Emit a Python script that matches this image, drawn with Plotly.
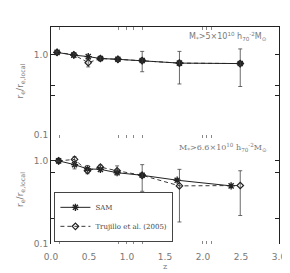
import plotly.graph_objects as go

# ---- data: top panel (M* > 5e10) ----
z_top = [0.08, 0.30, 0.49, 0.65, 0.88, 1.20, 1.69, 2.49]
sam_top = [1.06, 0.98, 0.94, 0.89, 0.87, 0.84, 0.78, 0.77]
tru_top = [1.06, 0.99, 0.79, 0.89, 0.87, 0.84, 0.78, 0.77]
tru_top_up = [0.02, 0.05, 0.08, 0.04, 0.05, 0.25, 0.31, 0.40]
tru_top_dn = [0.02, 0.05, 0.09, 0.04, 0.05, 0.23, 0.35, 0.37]

# ---- data: bottom panel (M* > 6.6e10) ----
z_sam_bot = [0.10, 0.31, 0.48, 0.65, 0.87, 1.20, 1.66, 2.37]
sam_bot = [1.00, 0.90, 0.80, 0.79, 0.72, 0.67, 0.585, 0.50]
z_tru_bot = [0.10, 0.31, 0.48, 0.65, 0.87, 1.20, 1.69, 2.49]
tru_bot = [1.00, 1.04, 0.76, 0.84, 0.76, 0.67, 0.50, 0.505]
tru_bot_up = [0.02, 0.08, 0.12, 0.05, 0.11, 0.23, 0.29, 0.255]
tru_bot_dn = [0.02, 0.24, 0.06, 0.05, 0.08, 0.24, 0.316, 0.285]

x_ticks = [0.0, 0.5, 1.0, 1.5, 2.0, 2.5, 3.0]
x_ticklabels = ["0.0", "0.5", "1.0", "1.5", "2.0", "2.5", "3.0"]
x_stray_ticks = [0.11, 0.89, 0.99, 1.09, 1.20, 1.99, 2.05, 2.11]
y_ticks = [0.1, 1.0]
y_ticklabels = ["0.1", "1.0"]
y_minor_top = [0.31, 0.41]
y_minor_bot = [0.2, 0.72]

ink = "#222222"
txt = "#777777"

fig = go.Figure()

def add_pair(zs, ys, zt, yt, up, dn, xa, ya, legend):
    fig.add_trace(go.Scatter(
        x=zs, y=ys, mode="lines+markers", name="SAM", showlegend=legend,
        line=dict(color=ink, width=1),
        marker=dict(symbol="asterisk-open", size=6, color=ink, line=dict(width=1.4, color=ink)),
        xaxis=xa, yaxis=ya))
    fig.add_trace(go.Scatter(
        x=zt, y=yt, mode="lines+markers", name="Trujillo et al. (2005)", showlegend=legend,
        line=dict(color=ink, width=0.9, dash="4px,3px"),
        marker=dict(symbol="diamond-open", size=5, color=ink, line=dict(width=1.2, color=ink)),
        error_y=dict(type="data", array=up, arrayminus=dn, color="#444444", thickness=0.8, width=2),
        xaxis=xa, yaxis=ya))

add_pair(z_top, sam_top, z_top, tru_top, tru_top_up, tru_top_dn, "x", "y", False)
add_pair(z_sam_bot, sam_bot, z_tru_bot, tru_bot, tru_bot_up, tru_bot_dn, "x2", "y2", True)

split = 0.502
axfont = dict(family="DejaVu Sans", size=9, color=txt)
stray = dict(tickmode="array", tickvals=x_stray_ticks, ticks="inside",
             ticklen=3, tickwidth=1, tickcolor="#888888", showgrid=False)

fig.update_layout(
    width=290, height=273,
    margin=dict(l=36, r=14, t=19, b=37),
    paper_bgcolor="white", plot_bgcolor="white",
    font=dict(family="DejaVu Sans", size=9, color=txt),
    xaxis=dict(domain=[0, 1], anchor="y", range=[0, 3], side="top",
               showline=True, linecolor=ink, linewidth=1, mirror=False,
               showgrid=False, zeroline=False, showticklabels=False,
               ticks="inside", ticklen=0, tickvals=x_ticks, minor=stray),
    xaxis2=dict(domain=[0, 1], anchor="y2", range=[0, 3],
                showline=False, mirror="ticks",
                showgrid=False, zeroline=False,
                ticks="inside", ticklen=0, ticklabelstandoff=6,
                tickvals=x_ticks, ticktext=x_ticklabels, tickfont=axfont,
                minor=stray,
                title=dict(text="z", font=dict(family="DejaVu Serif", size=8, color=txt), standoff=0)),
    yaxis=dict(domain=[split, 1], anchor="x", type="log", range=[-1, 0.34],
               showline=True, linecolor=ink, linewidth=1, mirror="ticks",
               showgrid=False, zeroline=False, ticks="inside", ticklen=4, tickcolor=ink,
               tickvals=y_ticks, ticktext=y_ticklabels, tickfont=axfont,
               minor=dict(tickmode="array", tickvals=y_minor_top, ticks="inside",
                          ticklen=4, tickcolor=ink, showgrid=False),
               title=dict(text="r<sub>e</sub>/r<sub>e,local</sub>",
                          font=dict(family="DejaVu Sans", size=9, color=txt), standoff=8)),
    yaxis2=dict(domain=[0, split], anchor="x2", type="log", range=[-1, 0.31],
                showline=True, linecolor=ink, linewidth=1, mirror="ticks",
                showgrid=False, zeroline=False, ticks="inside", ticklen=4, tickcolor=ink,
                tickvals=y_ticks, ticktext=y_ticklabels, tickfont=axfont,
                minor=dict(tickmode="array", tickvals=y_minor_bot, ticks="inside",
                           ticklen=4, tickcolor=ink, showgrid=False),
                title=dict(text="r<sub>e</sub>/r<sub>e,local</sub>",
                           font=dict(family="DejaVu Sans", size=9, color=txt), standoff=8)),
    legend=dict(x=0.015, y=0.01, xanchor="left", yanchor="bottom",
                bordercolor="#444444", borderwidth=1, bgcolor="white",
                font=dict(family="DejaVu Serif", size=7, color="#444444"),
                tracegroupgap=0, itemwidth=30),
    showlegend=True,
    annotations=[
        dict(text="M<sub>*</sub>>5×10<sup>10</sup> h<sub>70</sub><sup>-2</sup>M<sub>⊙</sub>",
             xref="paper", yref="paper", x=0.955, y=0.955, xanchor="right", yanchor="middle",
             showarrow=False, font=dict(family="DejaVu Sans", size=8, color=txt)),
        dict(text="M<sub>*</sub>>6.6×10<sup>10</sup> h<sub>70</sub><sup>-2</sup>M<sub>⊙</sub>",
             xref="paper", yref="paper", x=0.955, y=0.445, xanchor="right", yanchor="middle",
             showarrow=False, font=dict(family="DejaVu Serif", size=8, color=txt)),
    ],
)

fig.write_html("out.html")
